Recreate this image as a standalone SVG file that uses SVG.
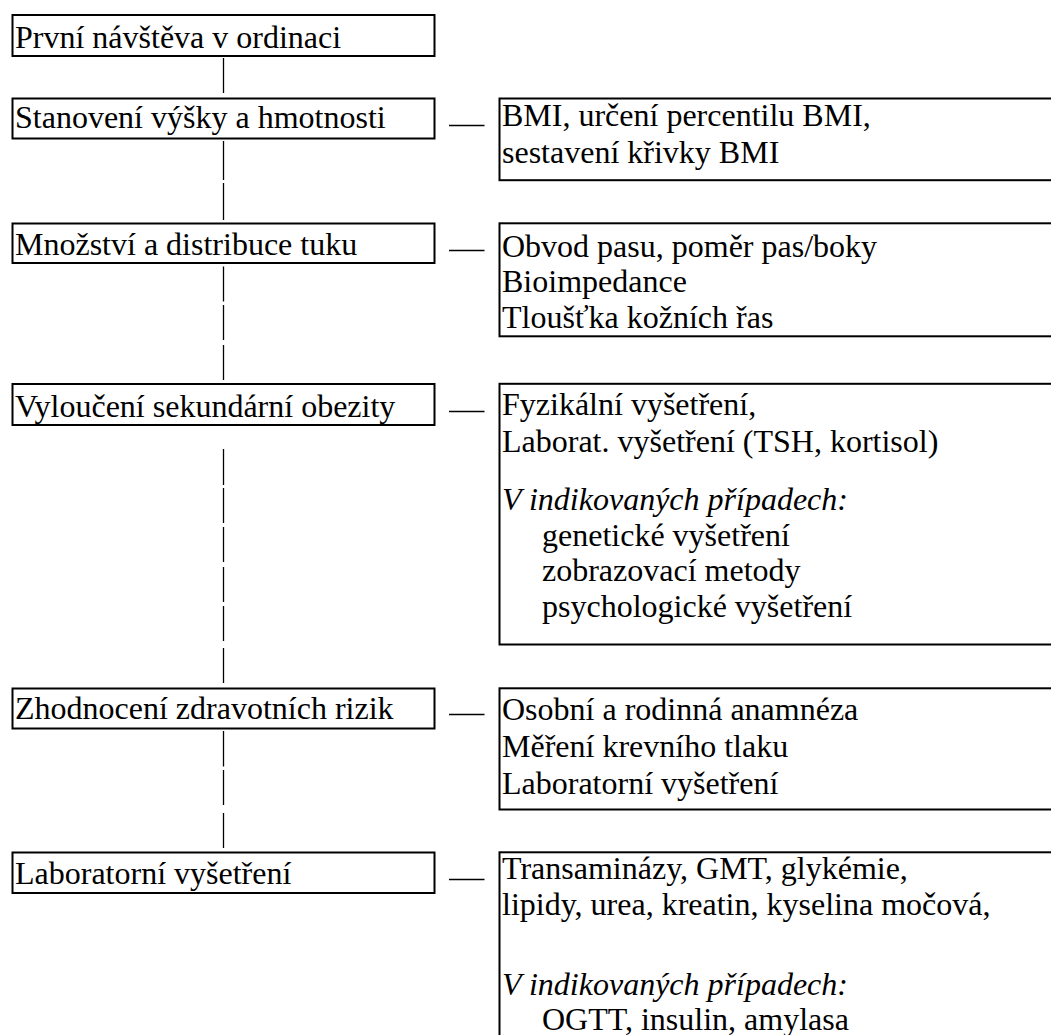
<svg xmlns="http://www.w3.org/2000/svg" width="1051" height="1035" viewBox="0 0 1051 1035" font-family="Times New Roman, Liberation Serif, serif">
<style>
.box{fill:#fff;stroke:#000;stroke-width:2}
.t{font-family:'Times New Roman','Liberation Serif',Tinos,serif;font-size:32px;fill:#000}
.i{font-style:italic}
.c line{stroke:#000;stroke-width:1.3}
</style>
<rect width="1051" height="1035" fill="#fff"/>
<g class="c" id="connectors">
<line x1="223.5" y1="58" x2="223.5" y2="93"/>
<line x1="223.5" y1="141" x2="223.5" y2="180"/>
<line x1="223.5" y1="183" x2="223.5" y2="220"/>
<line x1="223.5" y1="266.5" x2="223.5" y2="301.5"/>
<line x1="223.5" y1="305" x2="223.5" y2="340"/>
<line x1="223.5" y1="345" x2="223.5" y2="380"/>
<line x1="223.5" y1="449" x2="223.5" y2="485"/>
<line x1="223.5" y1="488" x2="223.5" y2="523"/>
<line x1="223.5" y1="527" x2="223.5" y2="562"/>
<line x1="223.5" y1="567" x2="223.5" y2="602"/>
<line x1="223.5" y1="606" x2="223.5" y2="641"/>
<line x1="223.5" y1="648" x2="223.5" y2="683"/>
<line x1="223.5" y1="731" x2="223.5" y2="766.5"/>
<line x1="223.5" y1="770" x2="223.5" y2="805"/>
<line x1="223.5" y1="813" x2="223.5" y2="848"/>
<line x1="449" y1="125.5" x2="484.5" y2="125.5"/>
<line x1="449" y1="250.5" x2="484.5" y2="250.5"/>
<line x1="449" y1="411.5" x2="484.5" y2="411.5"/>
<line x1="449" y1="714.5" x2="484.5" y2="714.5"/>
<line x1="449" y1="879.5" x2="484.5" y2="879.5"/>
</g>
<g id="n1"><rect class="box" x="12.5" y="15" width="422" height="41"/><text class="t" x="15" y="48.3">První návštěva v ordinaci</text></g>
<g id="n2"><rect class="box" x="12.5" y="98.5" width="422" height="40"/><text class="t" x="15" y="127.7">Stanovení výšky a hmotnosti</text></g>
<g id="n3"><rect class="box" x="12.5" y="223.5" width="422" height="39.5"/><text class="t" x="15" y="255">Množství a distribuce tuku</text></g>
<g id="n4"><rect class="box" x="12.5" y="384" width="422" height="41"/><text class="t" x="15" y="416.7">Vyloučení sekundární obezity</text></g>
<g id="n5"><rect class="box" x="12.5" y="688.5" width="422" height="40"/><text class="t" x="15" y="719">Zhodnocení zdravotních rizik</text></g>
<g id="n6"><rect class="box" x="12.5" y="852.5" width="422" height="40.5"/><text class="t" x="15" y="884.3">Laboratorní vyšetření</text></g>
<g id="r2"><rect class="box" x="499.5" y="98.5" width="600" height="81.7"/>
<text class="t" x="502" y="126">BMI, určení percentilu BMI,</text>
<text class="t" x="502" y="163">sestavení křivky BMI</text></g>
<g id="r3"><rect class="box" x="499.5" y="223.3" width="600" height="113"/>
<text class="t" x="502" y="256.5">Obvod pasu, poměr pas/boky</text>
<text class="t" x="502" y="292">Bioimpedance</text>
<text class="t" x="502" y="328">Tloušťka kožních řas</text></g>
<g id="r4"><rect class="box" x="499.5" y="383.8" width="600" height="260.7"/>
<text class="t" x="502" y="415">Fyzikální vyšetření,</text>
<text class="t" x="502" y="451.5">Laborat. vyšetření (TSH, kortisol)</text>
<text class="t i" x="502" y="510">V indikovaných případech:</text>
<text class="t" x="542" y="545.5">genetické vyšetření</text>
<text class="t" x="542" y="581">zobrazovací metody</text>
<text class="t" x="542" y="616.5">psychologické vyšetření</text></g>
<g id="r5"><rect class="box" x="499.5" y="688.3" width="600" height="121.2"/>
<text class="t" x="502" y="720">Osobní a rodinná anamnéza</text>
<text class="t" x="502" y="757">Měření krevního tlaku</text>
<text class="t" x="502" y="794">Laboratorní vyšetření</text></g>
<g id="r6"><rect class="box" x="499.5" y="852.3" width="600" height="250"/>
<text class="t" x="502" y="879">Transaminázy, GMT, glykémie,</text>
<text class="t" x="502" y="914.5">lipidy, urea, kreatin, kyselina močová,</text>
<text class="t i" x="502" y="995">V indikovaných případech:</text>
<text class="t" x="542" y="1030">OGTT, insulin, amylasa</text></g>
</svg>
